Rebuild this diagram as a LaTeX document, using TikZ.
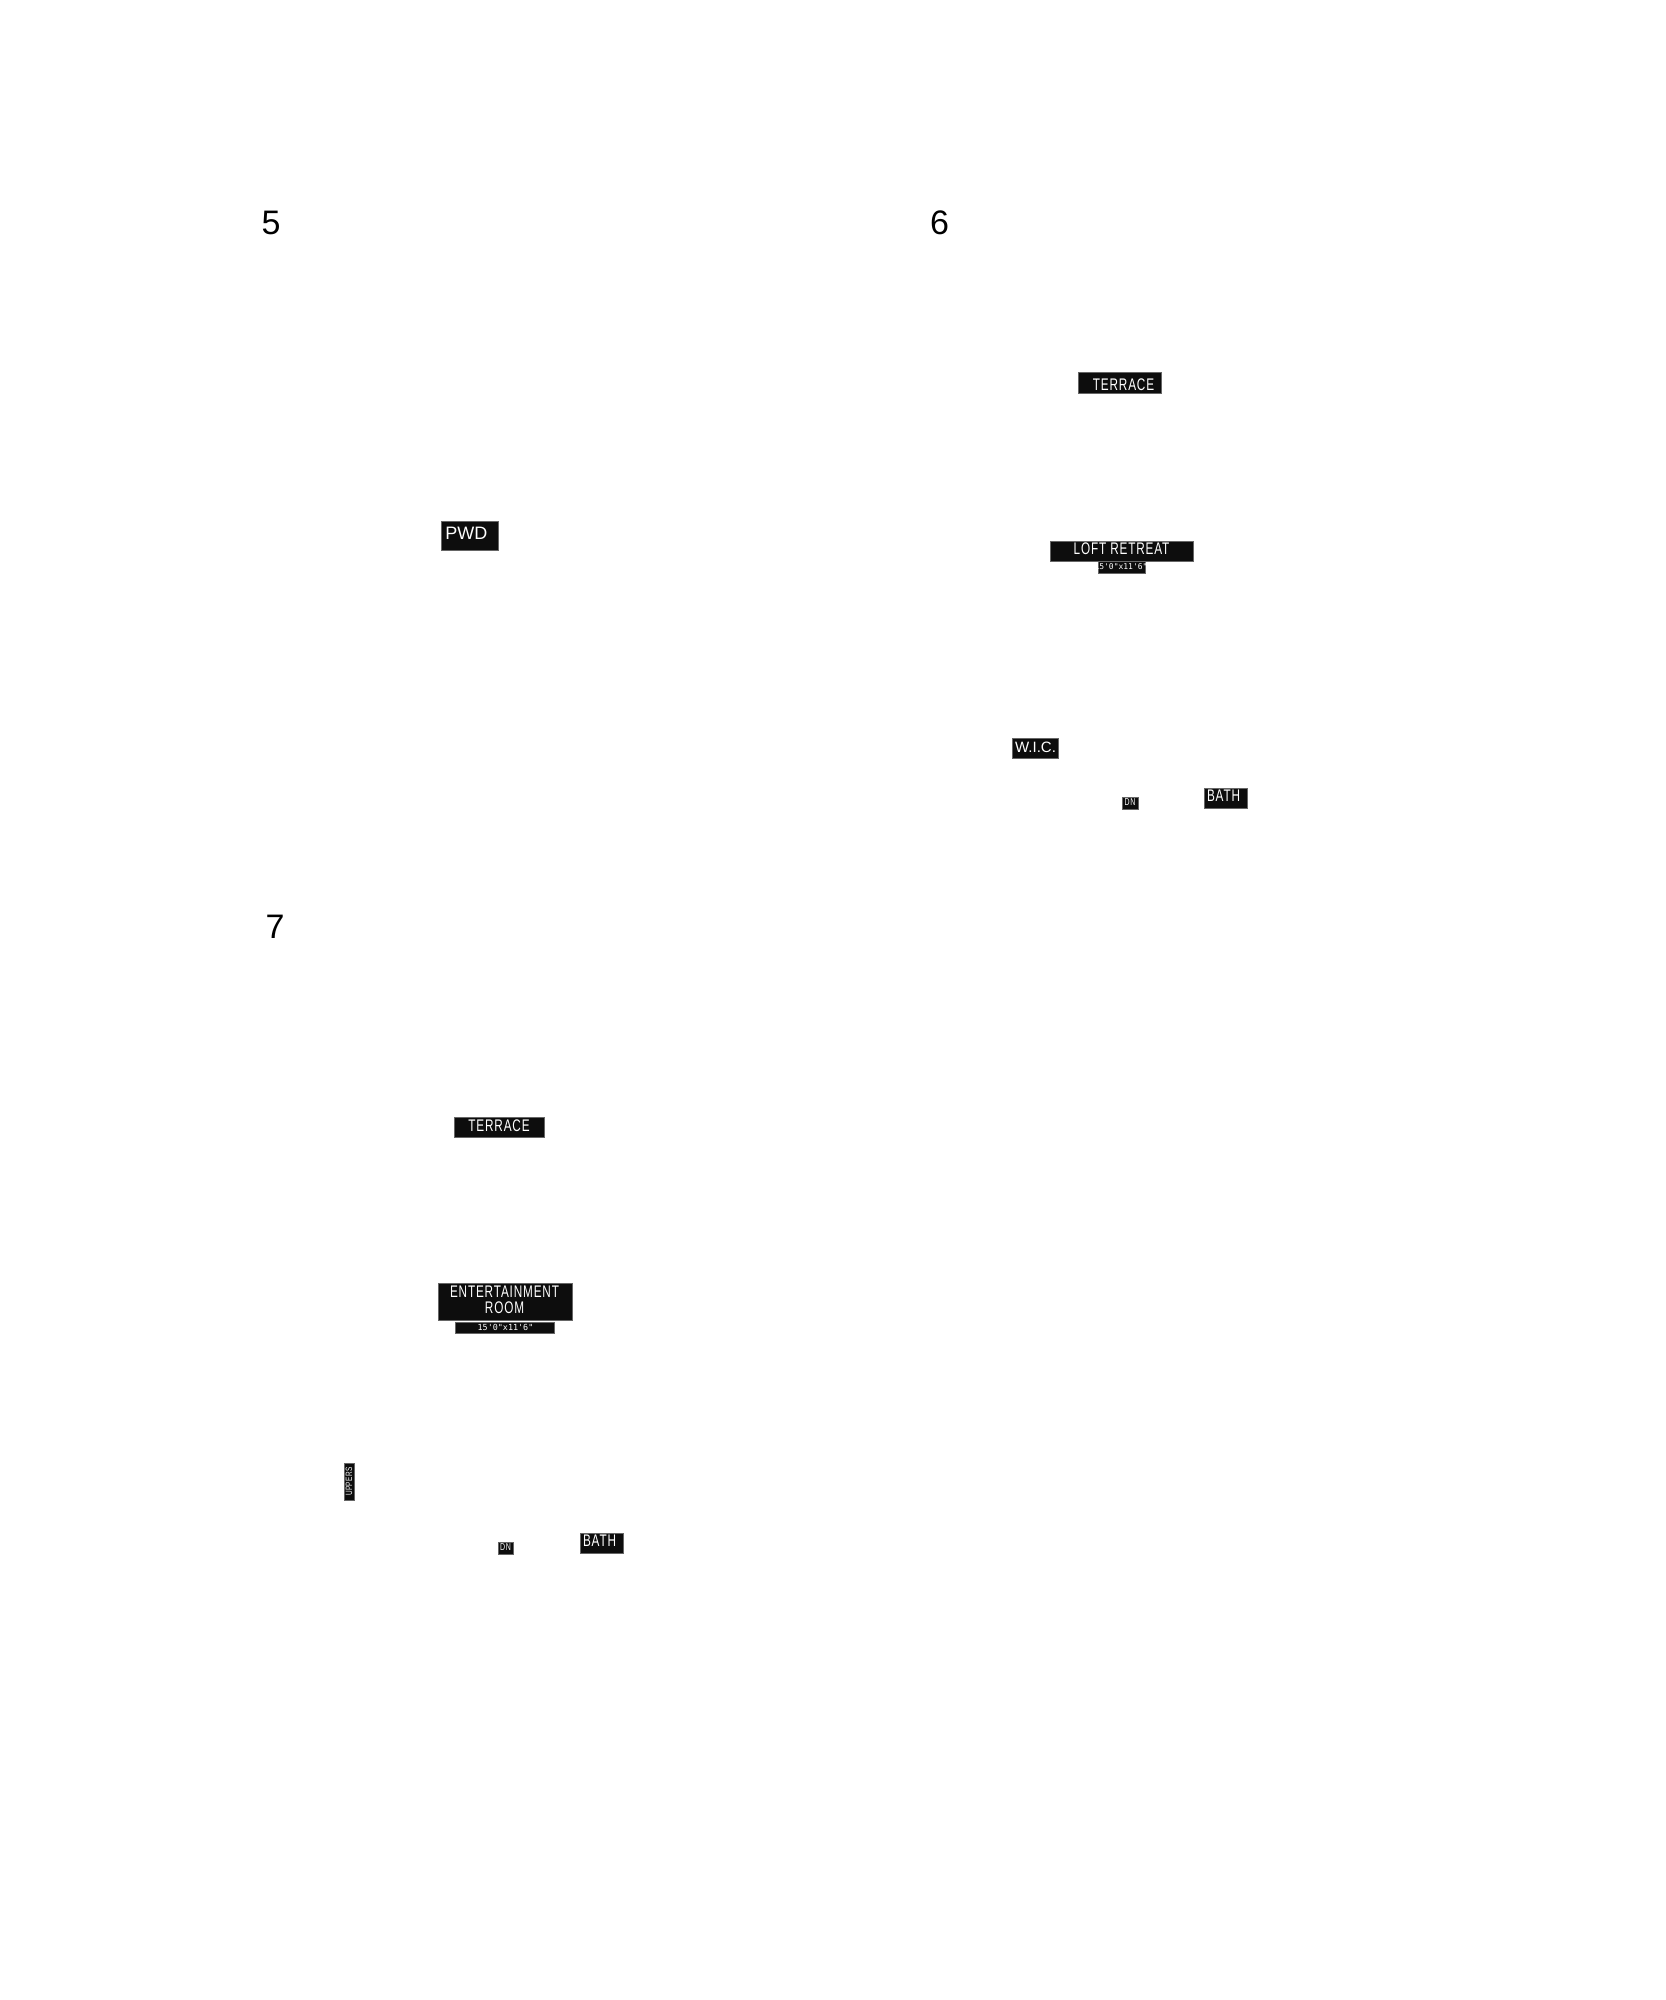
\documentclass[tikz,border=0pt]{standalone}
\usepackage{fontspec}
\setmainfont{Liberation Sans}
\newfontfamily\numf{Liberation Sans}
\newfontfamily\condf[FakeStretch=0.7,LetterSpace=5]{Liberation Sans}
\newfontfamily\monof[Ligatures=TeXOff]{DejaVu Sans Mono}
\tikzset{
  lblbox/.style={fill=black!95, draw=black!60, line width=0.3pt, inner sep=0pt},
  lbltxt/.style={text=white, inner sep=0pt},
  bignum/.style={inner sep=0pt, font=\numf\fontsize{17}{20}\selectfont}
}
\begin{document}
\begin{tikzpicture}[x=0.5pt,y=-0.5pt]
\useasboundingbox (0,0) rectangle (1665,2000);

% plan numbers
\node[bignum] (n5) at (271,222.5) {5};
\node[bignum] (n6) at (939.5,222.5) {6};
\node[bignum] (n7) at (275,926.5) {7};

% ---- plan 5
\node[lblbox, minimum width=28.5pt, minimum height=14.5pt] (pwdbox) at (469.5,535.5) {};
\node[lbltxt, anchor=west, font=\fontsize{9}{10}\selectfont] (pwd) at (445,533) {PWD};

% ---- plan 6
\node[lblbox, minimum width=41.5pt, minimum height=10.5pt] (ter6box) at (1119.5,382.5) {};
\node[lbltxt, font=\condf\fontsize{8.4}{10}\selectfont] (ter6) at (1123.5,384.5) {TERRACE};

\node[lblbox, minimum width=71.5pt, minimum height=10pt] (loftbox) at (1121.5,551) {};
\node[lbltxt, font=\condf\fontsize{8.4}{10}\selectfont] (loft) at (1121.5,549) {LOFT RETREAT};
\node[lblbox, minimum width=23.5pt, minimum height=6pt] (dim6box) at (1121.5,567) {};
\node[lbltxt, font=\monof\fontsize{4}{4.5}\selectfont] (dim6) at (1121,567) {15'0"x11'6"};

\node[lblbox, minimum width=23pt, minimum height=10pt] (wicbox) at (1035,748) {};
\node[lbltxt, font=\fontsize{7.5}{9}\selectfont] (wic) at (1035.5,747) {W.I.C.};

\node[lblbox, minimum width=8pt, minimum height=6pt] (dn6box) at (1130,803) {};
\node[lbltxt, font=\condf\fontsize{5}{6}\selectfont] (dn6) at (1130,802.5) {DN};

\node[lblbox, minimum width=21.5pt, minimum height=10pt] (bath6box) at (1225.5,798) {};
\node[lbltxt, font=\condf\fontsize{8.4}{10}\selectfont] (bath6) at (1223.5,796) {BATH};

% ---- plan 7
\node[lblbox, minimum width=45pt, minimum height=10pt] (ter7box) at (499,1127) {};
\node[lbltxt, font=\condf\fontsize{8.4}{10}\selectfont] (ter7) at (499,1126) {TERRACE};

\node[lblbox, minimum width=67pt, minimum height=18.5pt] (entbox) at (505,1301.5) {};
\node[lbltxt, align=center, font=\condf\fontsize{8.4}{8.2}\selectfont] (ent) at (504.5,1300) {ENTERTAINMENT\\ROOM};
\node[lblbox, minimum width=49.5pt, minimum height=5.5pt] (dim7box) at (504.5,1327.5) {};
\node[lbltxt, font=\monof\fontsize{4.2}{4.5}\selectfont] (dim7) at (505.5,1327) {15'0"x11'6"};

\node[lblbox, minimum width=5pt, minimum height=18.5pt] (upbox) at (349,1481.5) {};
\node[lbltxt, rotate=90, font=\condf\fontsize{4.6}{5}\selectfont] (up) at (349,1481.5) {UPPERS};

\node[lblbox, minimum width=7.5pt, minimum height=6pt] (dn7box) at (505.5,1548) {};
\node[lbltxt, font=\condf\fontsize{5}{6}\selectfont] (dn7) at (505.5,1547.5) {DN};

\node[lblbox, minimum width=21.5pt, minimum height=10pt] (bath7box) at (601.5,1543) {};
\node[lbltxt, font=\condf\fontsize{8.4}{10}\selectfont] (bath7) at (599.5,1541) {BATH};
\end{tikzpicture}
\end{document}
